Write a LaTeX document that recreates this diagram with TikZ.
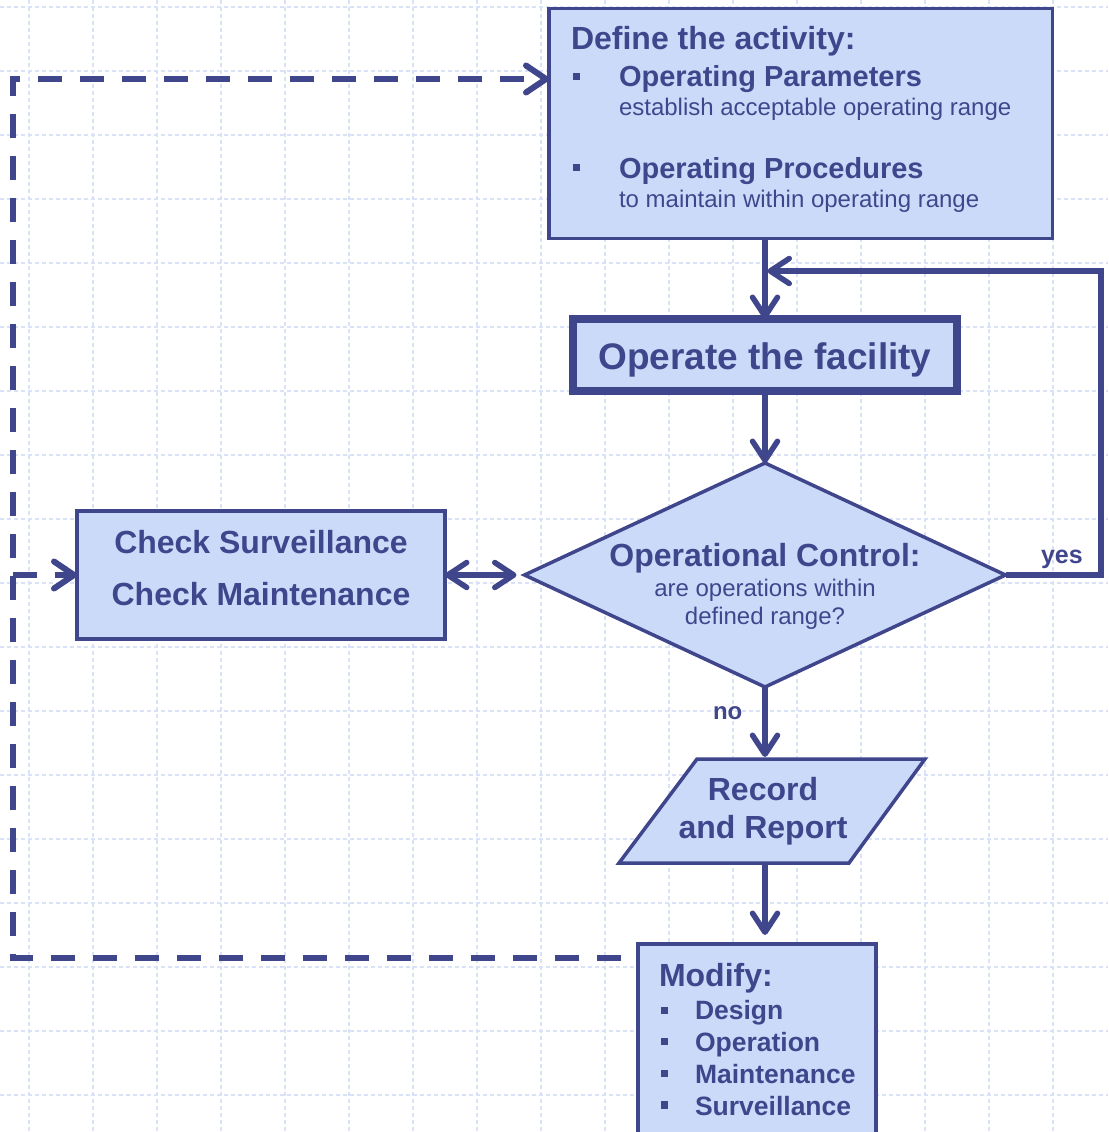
\documentclass[tikz,border=0pt]{standalone}
\usepackage{fontspec}
\setmainfont{Liberation Sans}
\usetikzlibrary{arrows.meta,shapes.geometric}
\definecolor{lc}{RGB}{64,70,140}
\definecolor{fc}{RGB}{204,218,250}
\definecolor{gc}{RGB}{218,226,250}
\begin{document}
\begin{tikzpicture}[x=1pt,y=-1pt,
  box/.style={draw=lc, fill=fc, line width=3.5pt, inner sep=0pt, outer sep=0pt},
  barb/.tip={Straight Barb[length=19pt,width=25pt,line width=5.5pt,round]},
  conn/.style={draw=lc, line width=5.5pt, -barb},
  dconn/.style={draw=lc, line width=6pt, dash pattern=on 24pt off 18pt},
  txt/.style={text=lc, inner sep=0pt, outer sep=0pt},
  fA/.style={font=\fontsize{32}{38}\selectfont\bfseries},
  fB/.style={font=\fontsize{29}{34}\selectfont\bfseries},
  fC/.style={font=\fontsize{24}{29}\selectfont},
  fD/.style={font=\fontsize{26.5}{32}\selectfont\bfseries},
  bul/.style={fill=lc, inner sep=0pt, minimum size=7.5pt},
  gridline/.style={draw=gc, line width=1.2pt, dash pattern=on 4pt off 3pt},
]
\clip (0,0) rectangle (1108,1132);
\fill[white] (0,0) rectangle (1108,1132);
\foreach \i in {0,...,16} \path[gridline] (29+64*\i,0) -- (29+64*\i,1132);
\foreach \i in {0,...,17} \path[gridline] (0,7+64*\i) -- (1108,7+64*\i);

% boxes
\node[box, minimum width=503.5pt, minimum height=230pt] (def) at (800.75,123.5) {};
\node[box, line width=7.5pt, minimum width=384pt, minimum height=72pt] (op) at (765,355) {};
\node[box, diamond, minimum width=481pt, minimum height=224pt] (dia) at (765,575) {};
\node[box, minimum width=368pt, minimum height=128pt] (chk) at (261,575) {};
\node[box, minimum width=238pt, minimum height=230pt] (mod) at (757,1059) {};
\filldraw[draw=lc, fill=fc, line width=3.5pt] (697,759) -- (925,759) -- (849,863) -- (619,863) -- cycle;
\coordinate (rrtop) at (765,757);
\coordinate (rrbot) at (765,863);

% coordinates for connectors
\coordinate (yc) at (1101,271);
\coordinate (yesend) at (767.5,271);
\coordinate (dl) at (13,958);
\coordinate (tl) at (13,79);
\coordinate (bl) at (13,575);

% connectors
\draw[conn] (op.north |- def.south) -- (op.north);
\draw[conn] (op.south) -- (dia.north);
\draw[conn] (dia.south) -- (rrtop);
\draw[conn, shorten >=9pt] (rrbot) -- (rrbot |- mod.north);
\draw[conn] (dia.east) -| (yc) -- (yesend);
\draw[draw=lc, line width=5.5pt, barb-barb, shorten >=8pt] (chk.east) -- (dia.west);
\draw[dconn, dash phase=25pt, -{Straight Barb[length=20pt,width=27pt,round]}] (mod.west |- dl) -- (dl) -- (tl) -- (def.west |- tl);
\draw[dconn, -{Straight Barb[length=20pt,width=27pt,round]}] (bl) -- (chk.west);

% define box text
\node[txt, fA, anchor=base west] (t1) at (571,50) {Define the activity:};
\node[bul] (b1) at (576.5,76.5) {};
\node[txt, fB, anchor=base west] (t2) at (619,86) {Operating Parameters};
\node[txt, fC, anchor=base west] (t3) at (619,115) {establish acceptable operating range};
\node[bul] (b2) at (576.5,167.5) {};
\node[txt, fB, anchor=base west] (t4) at (619,178) {Operating Procedures};
\node[txt, fC, anchor=base west] (t5) at (619,207) {to maintain within operating range};

% operate
\node[txt, font=\fontsize{37}{44}\selectfont\bfseries, anchor=base] (t6) at (765,369) {Operate the facility};

% diamond
\node[txt, fA, anchor=base] (t7) at (765,566) {Operational Control:};
\node[txt, fC, anchor=base] (t8) at (765,596) {are operations within};
\node[txt, fC, anchor=base] (t9) at (765,624) {defined range?};

% check
\node[txt, fA, anchor=base] (t10) at (261,553) {Check Surveillance};
\node[txt, fA, anchor=base] (t11) at (261,605) {Check Maintenance};

% record
\node[txt, fA, anchor=base] (t12) at (763,800) {Record};
\node[txt, fA, anchor=base] (t13) at (763,838) {and Report};

% modify
\node[txt, fA, anchor=base west] (t14) at (659,986) {Modify:};
\node[bul] (b3) at (664.5,1010.5) {};
\node[txt, fD, anchor=base west] (t15) at (695,1019) {Design};
\node[bul] (b4) at (664.5,1041.5) {};
\node[txt, fD, anchor=base west] (t16) at (695,1051) {Operation};
\node[bul] (b5) at (664.5,1073.5) {};
\node[txt, fD, anchor=base west] (t17) at (695,1083) {Maintenance};
\node[bul] (b6) at (664.5,1105) {};
\node[txt, fD, anchor=base west] (t18) at (695,1115) {Surveillance};

% labels
\node[txt, font=\fontsize{25}{30}\selectfont\bfseries, anchor=base west] (yes) at (1041,563) {yes};
\node[txt, font=\fontsize{24}{29}\selectfont\bfseries, anchor=base west] (no) at (713,719) {no};
\end{tikzpicture}
\end{document}
